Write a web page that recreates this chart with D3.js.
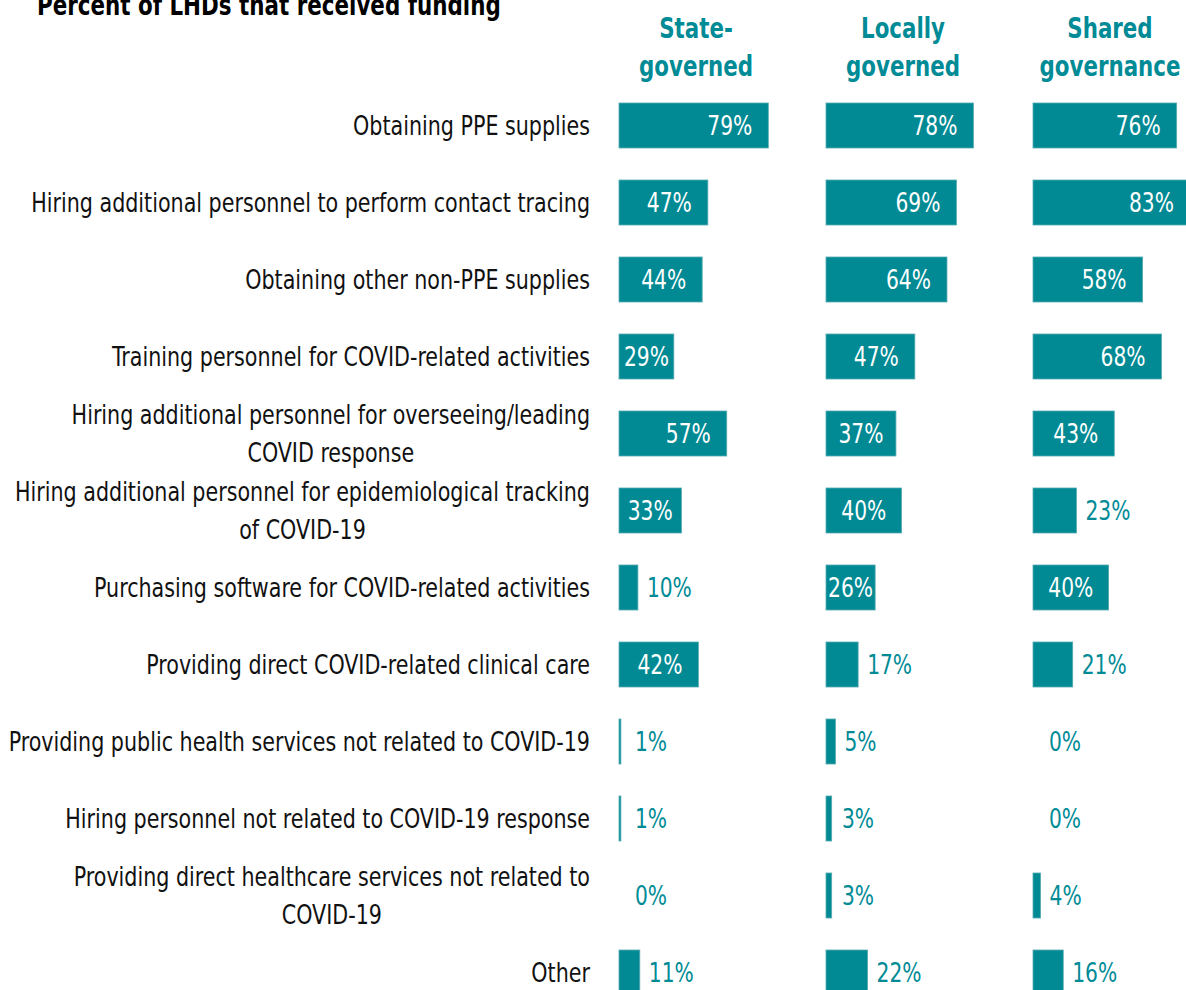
<!DOCTYPE html>
<html lang="en">
<head>
  <meta charset="UTF-8">
  <title>Percent of LHDs that received funding</title>
  <script src="https://d3js.org/d3.v7.min.js"></script>
  <style>
    body { margin: 0; background: #ffffff; }
    svg text { font-family: "Liberation Sans Narrow", "DejaVu Sans Condensed", "Arial Narrow", sans-serif; }
    .title { font-size: 28px; font-weight: bold; fill: #000; }
    .header { font-size: 28px; font-weight: bold; fill: #008b96; }
    .cat { font-size: 26px; fill: #111; }
    .val { font-size: 26px; }
    .bar { fill: #018a94; stroke: #55aab1; stroke-width: 0.8; }
  </style>
</head>
<body>
  <div id="chart"></div>
  <script>
    const width = 1186, height = 990;

    const categories = [
      "Obtaining PPE supplies",
      "Hiring additional personnel to perform contact tracing",
      "Obtaining other non-PPE supplies",
      "Training personnel for COVID-related activities",
      "Hiring additional personnel for overseeing/leading|COVID response",
      "Hiring additional personnel for epidemiological tracking|of COVID-19",
      "Purchasing software for COVID-related activities",
      "Providing direct COVID-related clinical care",
      "Providing public health services not related to COVID-19",
      "Hiring personnel not related to COVID-19 response",
      "Providing direct healthcare services not related to|COVID-19",
      "Other"
    ];
    const groups = ["State-|governed", "Locally|governed", "Shared|governance"];
    const stateGoverned = [79, 47, 44, 29, 57, 33, 10, 42, 1, 1, 0, 11];
    const locallyGoverned = [78, 69, 64, 47, 37, 40, 26, 17, 5, 3, 3, 22];
    const sharedGovernance = [76, 83, 58, 68, 43, 23, 40, 21, 0, 0, 4, 16];
    const series = [stateGoverned, locallyGoverned, sharedGovernance];

    const svg = d3.select("#chart").append("svg")
      .attr("width", width)
      .attr("height", height);

    // the source uses a condensed face; squeeze our fallback font to the same widths
    function widthOf(cls, str) {
      const t = svg.append("text").attr("class", cls).text(str);
      const w = t.node().getComputedTextLength();
      t.remove();
      return w;
    }
    const sxCat = 559 / widthOf("cat", "Hiring additional personnel to perform contact tracing");
    const sxVal = 45 / widthOf("val", "79%");
    const sxHead = 141 / widthOf("header", "governance");
    const sxTitle = 464 / widthOf("title", "Percent of LHDs that received funding");

    const y = d3.scaleBand().domain(categories).range([87, 87 + 12 * 77])
      .paddingInner(32 / 77).paddingOuter(16 / 77);
    const col = d3.scaleBand().domain(groups).range([619, 619 + 3 * 207]);
    const x = d3.scaleLinear().domain([0, 100]).range([0, 189]);

    svg.append("text")
      .attr("class", "title")
      .attr("transform", `scale(${sxTitle},1)`)
      .attr("x", 37 / sxTitle).attr("y", 15)
      .text("Percent of LHDs that received funding");

    // column headers
    groups.forEach(g => {
      const t = svg.append("text")
        .attr("class", "header")
        .attr("transform", `scale(${sxHead},1)`)
        .attr("text-anchor", "middle");
      g.split("|").forEach((line, i) => {
        t.append("tspan")
          .attr("x", (col(g) + 77) / sxHead)
          .attr("y", 38 + i * 38)
          .text(line);
      });
    });

    // category labels: block right-aligned, lines centred within block
    categories.forEach(c => {
      const lines = c.split("|");
      const cy = y(c) + y.bandwidth() / 2;
      const t = svg.append("text").attr("class", "cat")
        .attr("transform", `scale(${sxCat},1)`);
      const spans = lines.map((line, i) => t.append("tspan")
        .attr("y", cy + (i - (lines.length - 1) / 2) * 38)
        .attr("dy", "0.35em")
        .text(line));
      if (lines.length === 1) {
        t.attr("text-anchor", "end");
        spans[0].attr("x", 590 / sxCat);
      } else {
        const w = d3.max(spans, s => s.node().getComputedTextLength()) * sxCat;
        t.attr("text-anchor", "middle");
        spans.forEach(s => s.attr("x", (590 - w / 2) / sxCat));
      }
    });

    // bars and values
    groups.forEach((g, gi) => {
      const x0 = col(g);
      const gEl = svg.append("g");
      const rows = categories.map((c, i) => ({ c, v: series[gi][i] }));

      gEl.selectAll("rect")
        .data(rows.filter(d => d.v > 0))
        .join("rect")
        .attr("class", "bar")
        .attr("x", x0)
        .attr("y", d => y(d.c))
        .attr("width", d => x(d.v))
        .attr("height", y.bandwidth());

      gEl.selectAll("text")
        .data(rows)
        .join("text")
        .attr("class", "val")
        .attr("transform", `scale(${sxVal},1)`)
        .attr("y", d => y(d.c) + y.bandwidth() / 2)
        .attr("dy", "0.35em")
        .text(d => d.v + "%")
        .each(function (d) {
          const el = d3.select(this);
          const end = x0 + x(d.v);
          if (d.v >= 25) {
            const tw = this.getComputedTextLength() * sxVal;
            const pad = Math.min(16, (x(d.v) - tw) / 2);
            el.attr("fill", "#fff").attr("text-anchor", "end").attr("x", (end - pad) / sxVal);
          } else {
            el.attr("fill", "#008b96").attr("text-anchor", "start")
              .attr("x", Math.max(end + 9, x0 + 16) / sxVal);
          }
        });
    });
  </script>
</body>
</html>
